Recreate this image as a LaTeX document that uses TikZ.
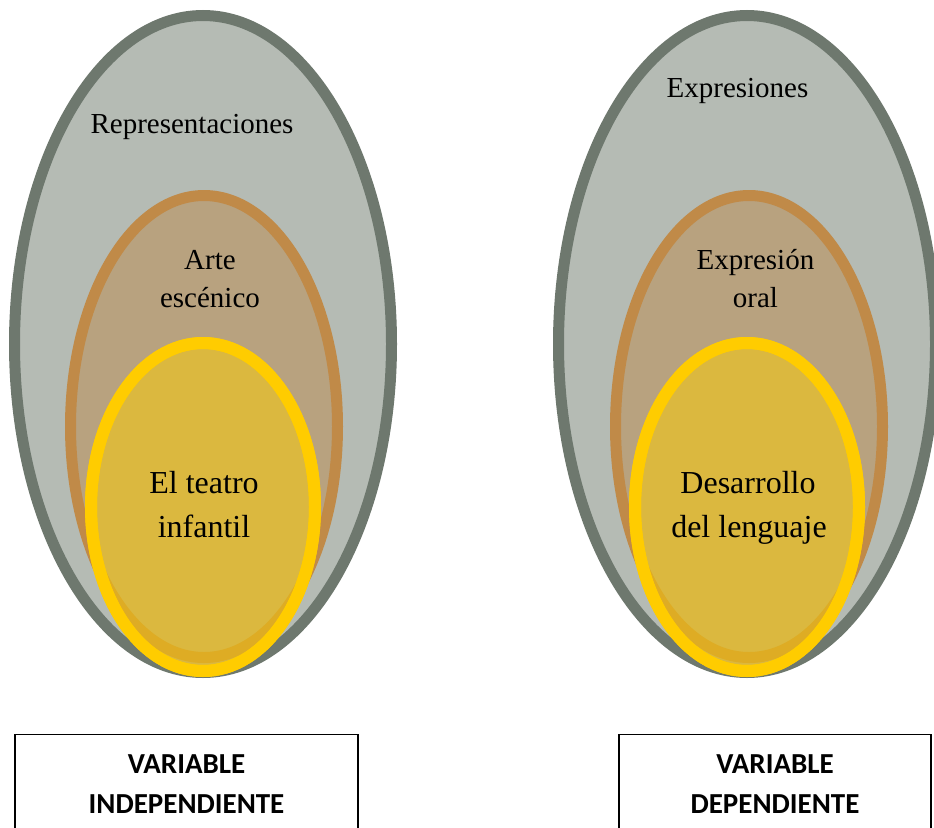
\documentclass[tikz,border=0pt]{standalone}
\usepackage{fontspec}
\setmainfont{Liberation Serif}
\newfontfamily\boxfont{Carlito}
\definecolor{outerline}{RGB}{110,120,110}
\definecolor{outerfill}{RGB}{181,187,180}
\definecolor{midline}{RGB}{192,138,72}
\definecolor{midfill}{RGB}{184,162,127}
\definecolor{innerline}{RGB}{255,204,0}
\definecolor{innerfill}{RGB}{219,184,63}
\definecolor{amberband}{RGB}{222,172,36}
\tikzset{
  outerell/.style={draw=outerline, fill=outerfill, line width=11pt},
  midell/.style={draw=midline, fill=midfill, line width=11pt},
  innerell/.style={draw=innerline, fill=innerfill, line width=12pt},
  band/.style={draw=amberband, line width=11pt},
  lbl/.style={anchor=base, inner sep=0pt, font=\fontsize{29}{38}\selectfont},
  biglbl/.style={anchor=base, inner sep=0pt, font=\fontsize{32}{44}\selectfont},
  varbox/.style={draw=black, line width=1.3pt},
  boxlbl/.style={anchor=base, inner sep=0pt, font=\boxfont\bfseries\fontsize{29}{40}\selectfont}
}
\begin{document}
\begin{tikzpicture}[x=1pt,y=-1pt]
\useasboundingbox (0,0) rectangle (934,827);
\clip (0,0) rectangle (934,827);
% ---------- left group ----------
\draw[outerell] (203,344) ellipse [x radius=188.5pt, y radius=328.5pt];
\draw[midell] (204,426.5) ellipse [x radius=133.5pt, y radius=231pt];
\draw[innerell] (203,507) ellipse [x radius=112pt, y radius=164pt];
\begin{scope}
  \clip (203,507) ellipse [x radius=106pt, y radius=158pt];
  \draw[band] (204,426.5) ellipse [x radius=133.5pt, y radius=231pt];
\end{scope}
\draw[draw=innerline, line width=12pt] (203,507) ellipse [x radius=112pt, y radius=164pt];
\node[lbl] (rep) at (192,133) {Representaciones};
\node[lbl] (arte) at (210,269) {Arte};
\node[lbl] (esc) at (210,307) {escénico};
\node[biglbl] (teatro) at (204,493) {El teatro};
\node[biglbl] (infantil) at (204,537) {infantil};
% ---------- right group ----------
\draw[outerell] (747,344) ellipse [x radius=188.5pt, y radius=328.5pt];
\draw[midell] (749,426.5) ellipse [x radius=133.5pt, y radius=231pt];
\draw[innerell] (747,507) ellipse [x radius=112pt, y radius=164pt];
\begin{scope}
  \clip (747,507) ellipse [x radius=106pt, y radius=158pt];
  \draw[band] (749,426.5) ellipse [x radius=133.5pt, y radius=231pt];
\end{scope}
\draw[draw=innerline, line width=12pt] (747,507) ellipse [x radius=112pt, y radius=164pt];
\node[lbl] (expr) at (737.5,97) {Expresiones};
\node[lbl] (exprn) at (755.5,269) {Expresión};
\node[lbl] (oral) at (755.5,307) {oral};
\node[biglbl] (desa) at (748,493) {Desarrollo};
\node[biglbl] (lengua) at (749,537) {del lenguaje};
% ---------- boxes ----------
\draw[varbox] (15,734.5) rectangle (358,860);
\draw[varbox] (619,734.5) rectangle (931,860);
\node[boxlbl] (vi1) at (186.5,773) {VARIABLE};
\node[boxlbl] (vi2) at (186.5,813) {INDEPENDIENTE};
\node[boxlbl] (vd1) at (775,773) {VARIABLE};
\node[boxlbl] (vd2) at (775,813) {DEPENDIENTE};
\end{tikzpicture}
\end{document}
